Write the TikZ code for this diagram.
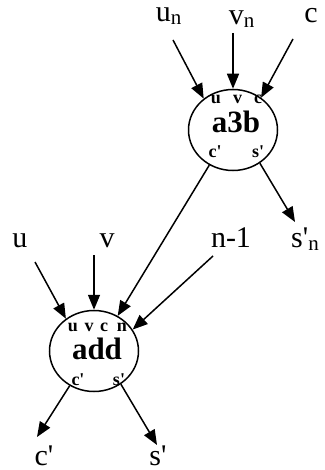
\documentclass[tikz,border=0pt]{standalone}
\usepackage{fontspec}
\setmainfont{Liberation Serif}[Ligatures=TeXOff]
\usetikzlibrary{shapes.geometric,arrows.meta}
\newcommand{\sbn}{\raisebox{-3pt}{\fontsize{21}{21}\selectfont n}}
\begin{document}
\begin{tikzpicture}[x=1pt,y=-1pt,
  lbl/.style={font=\fontsize{30}{30}\selectfont, anchor=base, inner sep=0pt},
  port/.style={font=\bfseries\fontsize{18}{18}\selectfont, anchor=base, inner sep=0pt},
  title/.style={font=\bfseries\fontsize{31}{31}\selectfont, anchor=base, inner sep=0pt},
  unit/.style={ellipse, draw, line width=1.5pt, minimum width=89pt, minimum height=81pt, inner sep=0pt},
  arr/.style={line width=1.5pt, -{Triangle[length=15pt,width=12pt]}}]
\useasboundingbox (0,0) rectangle (324,470);

% units
\node[unit] (a3b) at (233,130) {};
\node[unit] (add) at (94,351) {};

% a3b texts
\node[title] (a3bt) at (236,133) {a3b};
\node[port] (a3bu) at (216,104) {u};
\node[port] (a3bv) at (237.5,104) {v};
\node[port] (a3bc) at (258,104) {c};
\node[port] (a3bco) at (215,158) {c'};
\node[port] (a3bso) at (258,158) {s'};

% add texts
\node[title] (addt) at (97,359) {add};
\node[port] (addu) at (73,331) {u};
\node[port] (addv) at (89,331) {v};
\node[port] (addc) at (104,331) {c};
\node[port] (addn) at (122,331) {n};
\node[port] (addco) at (78,385) {c'};
\node[port] (addso) at (119,385) {s'};

% outer labels
\node[lbl] (un) at (168.5,22) {u\sbn};
\node[lbl] (vn) at (241.5,25) {v\sbn};
\node[lbl] (cn) at (311,23) {c};
\node[lbl] (sn) at (305,247) {s'\sbn};
\node[lbl] (u) at (20,247) {u};
\node[lbl] (v) at (107,247) {v};
\node[lbl] (n1) at (231,247) {n-1};
\node[lbl] (co) at (44,465) {c'};
\node[lbl] (so) at (158,465) {s'};

% arrow free ends
\coordinate (un-s) at (173,40);
\coordinate (vn-s) at (233,33);
\coordinate (cn-s) at (293,39);
\coordinate (sn-e) at (295,222);
\coordinate (u-s) at (35,262);
\coordinate (v-s) at (94,255);
\coordinate (n-s) at (213,256);
\coordinate (c-e) at (37,437);
\coordinate (s-e) at (157,445);

% connectors
\draw[arr] (un-s) -- (a3b.133);
\draw[arr] (vn-s) -- (a3b.90);
\draw[arr] (cn-s) -- (a3b.49.5);
\draw[arr] (a3b.309) -- (sn-e);
\draw[arr] (a3b.236) -- (add.56);
\draw[arr] (u-s) -- (add.131);
\draw[arr] (v-s) -- (add.90);
\draw[arr] (n-s) -- (add.29);
\draw[arr] (add.235) -- (c-e);
\draw[arr] (add.309) -- (s-e);
\end{tikzpicture}
\end{document}
